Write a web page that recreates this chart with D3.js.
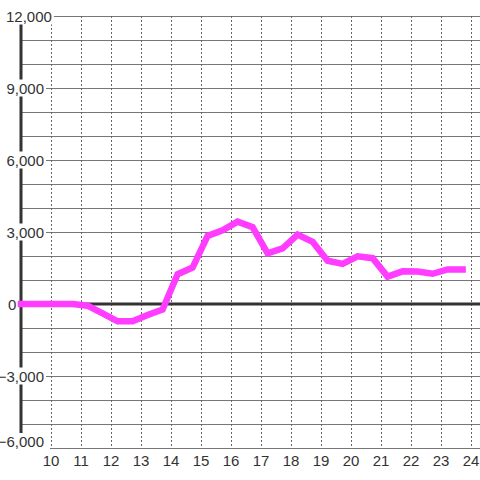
<!DOCTYPE html>
<html><head><meta charset="utf-8">
<script src="https://cdn.jsdelivr.net/npm/d3@7"></script>
<style>html,body{margin:0;padding:0;background:#fff;}svg{display:block;}</style>
</head><body>
<script>
const hours = [9.0, 9.72, 10.22, 10.72, 11.22, 11.72, 12.22, 12.72, 13.22, 13.72, 14.22, 14.72, 15.22, 15.72, 16.22, 16.72, 17.22, 17.72, 18.22, 18.72, 19.22, 19.72, 20.22, 20.72, 21.22, 21.72, 22.22, 22.72, 23.22, 23.72];
const values = [0, 0, 0, 0, -70, -390, -720, -720, -460, -230, 1240, 1520, 2840, 3070, 3430, 3200, 2110, 2320, 2890, 2590, 1800, 1670, 1990, 1910, 1140, 1360, 1350, 1260, 1440, 1440];
const xTicks = [10, 11, 12, 13, 14, 15, 16, 17, 18, 19, 20, 21, 22, 23, 24];
const yLabelTicks = [-6000, -3000, 0, 3000, 6000, 9000, 12000];
const yGridTicks = d3.range(-6000, 12001, 1000);

const W = 480, H = 480;
const svg = d3.select("body").append("svg").attr("width", W).attr("height", H);
svg.append("rect").attr("width", W).attr("height", H).attr("fill", "#fff");

const x = d3.scaleLinear().domain([9, 24.3]).range([21, 480]);
const y = d3.scaleLinear().domain([-6000, 12000]).range([448, 16]);
const fmt = d3.format(",");

// horizontal grid
svg.append("g").selectAll("line").data(yGridTicks).join("line")
  .attr("x1", d => d === -6000 ? x(10) - 1 : x(9))
  .attr("x2", W)
  .attr("y1", d => Math.round(y(d)) + 0.5).attr("y2", d => Math.round(y(d)) + 0.5)
  .attr("stroke", "#777").attr("stroke-width", 1);

// vertical dashed grid
svg.append("g").selectAll("line").data(xTicks).join("line")
  .attr("x1", d => Math.round(x(d)) + 0.5).attr("x2", d => Math.round(x(d)) + 0.5)
  .attr("y1", y(12000)).attr("y2", y(-6000))
  .attr("stroke", "#666").attr("stroke-width", 1).attr("stroke-dasharray", "2,2");

// zero line
svg.append("line").attr("x1", x(9)).attr("x2", W)
  .attr("y1", y(0)).attr("y2", y(0))
  .attr("stroke", "#333").attr("stroke-width", 3);

// y axis line
svg.append("line").attr("x1", x(9)).attr("x2", x(9))
  .attr("y1", y(12000)).attr("y2", y(-6000))
  .attr("stroke", "#333").attr("stroke-width", 3);

// y labels with background
const yl = svg.append("g").style("font-family", "'Liberation Sans', Arial, sans-serif").style("font-size", "15px");
yLabelTicks.forEach(t => {
  const g = yl.append("g");
  const txt = g.append("text").text(fmt(t)).attr("fill", "#333")
    .attr("y", t === -6000 ? y(t) - 1 : y(t) + 5.5);
  if (t === 0) txt.attr("x", 8).attr("text-anchor", "start");
  else if (t === 12000) txt.attr("x", 6).attr("text-anchor", "start");
  else txt.attr("x", 44).attr("text-anchor", "end");
  const bb = txt.node().getBBox();
  const rx = Math.max(0, bb.x - 2);
  g.insert("rect", "text").attr("x", rx).attr("y", bb.y)
    .attr("width", bb.x + bb.width + 2 - rx).attr("height", bb.height).attr("fill", "#fff");
});

// x labels
svg.append("g").style("font-family", "'Liberation Sans', Arial, sans-serif").style("font-size", "15px")
  .selectAll("text").data(xTicks).join("text")
  .attr("x", d => x(d)).attr("y", 466).attr("text-anchor", "middle")
  .attr("fill", "#333").text(d => d);

// data line
const line = d3.line().x((d, i) => x(hours[i])).y(d => y(d));
svg.append("path").datum(values).attr("d", line)
  .attr("fill", "none").attr("stroke", "#ff3cff").attr("stroke-width", 6.5)
  .attr("stroke-linecap", "square").attr("stroke-linejoin", "miter");
</script>
</body></html>
